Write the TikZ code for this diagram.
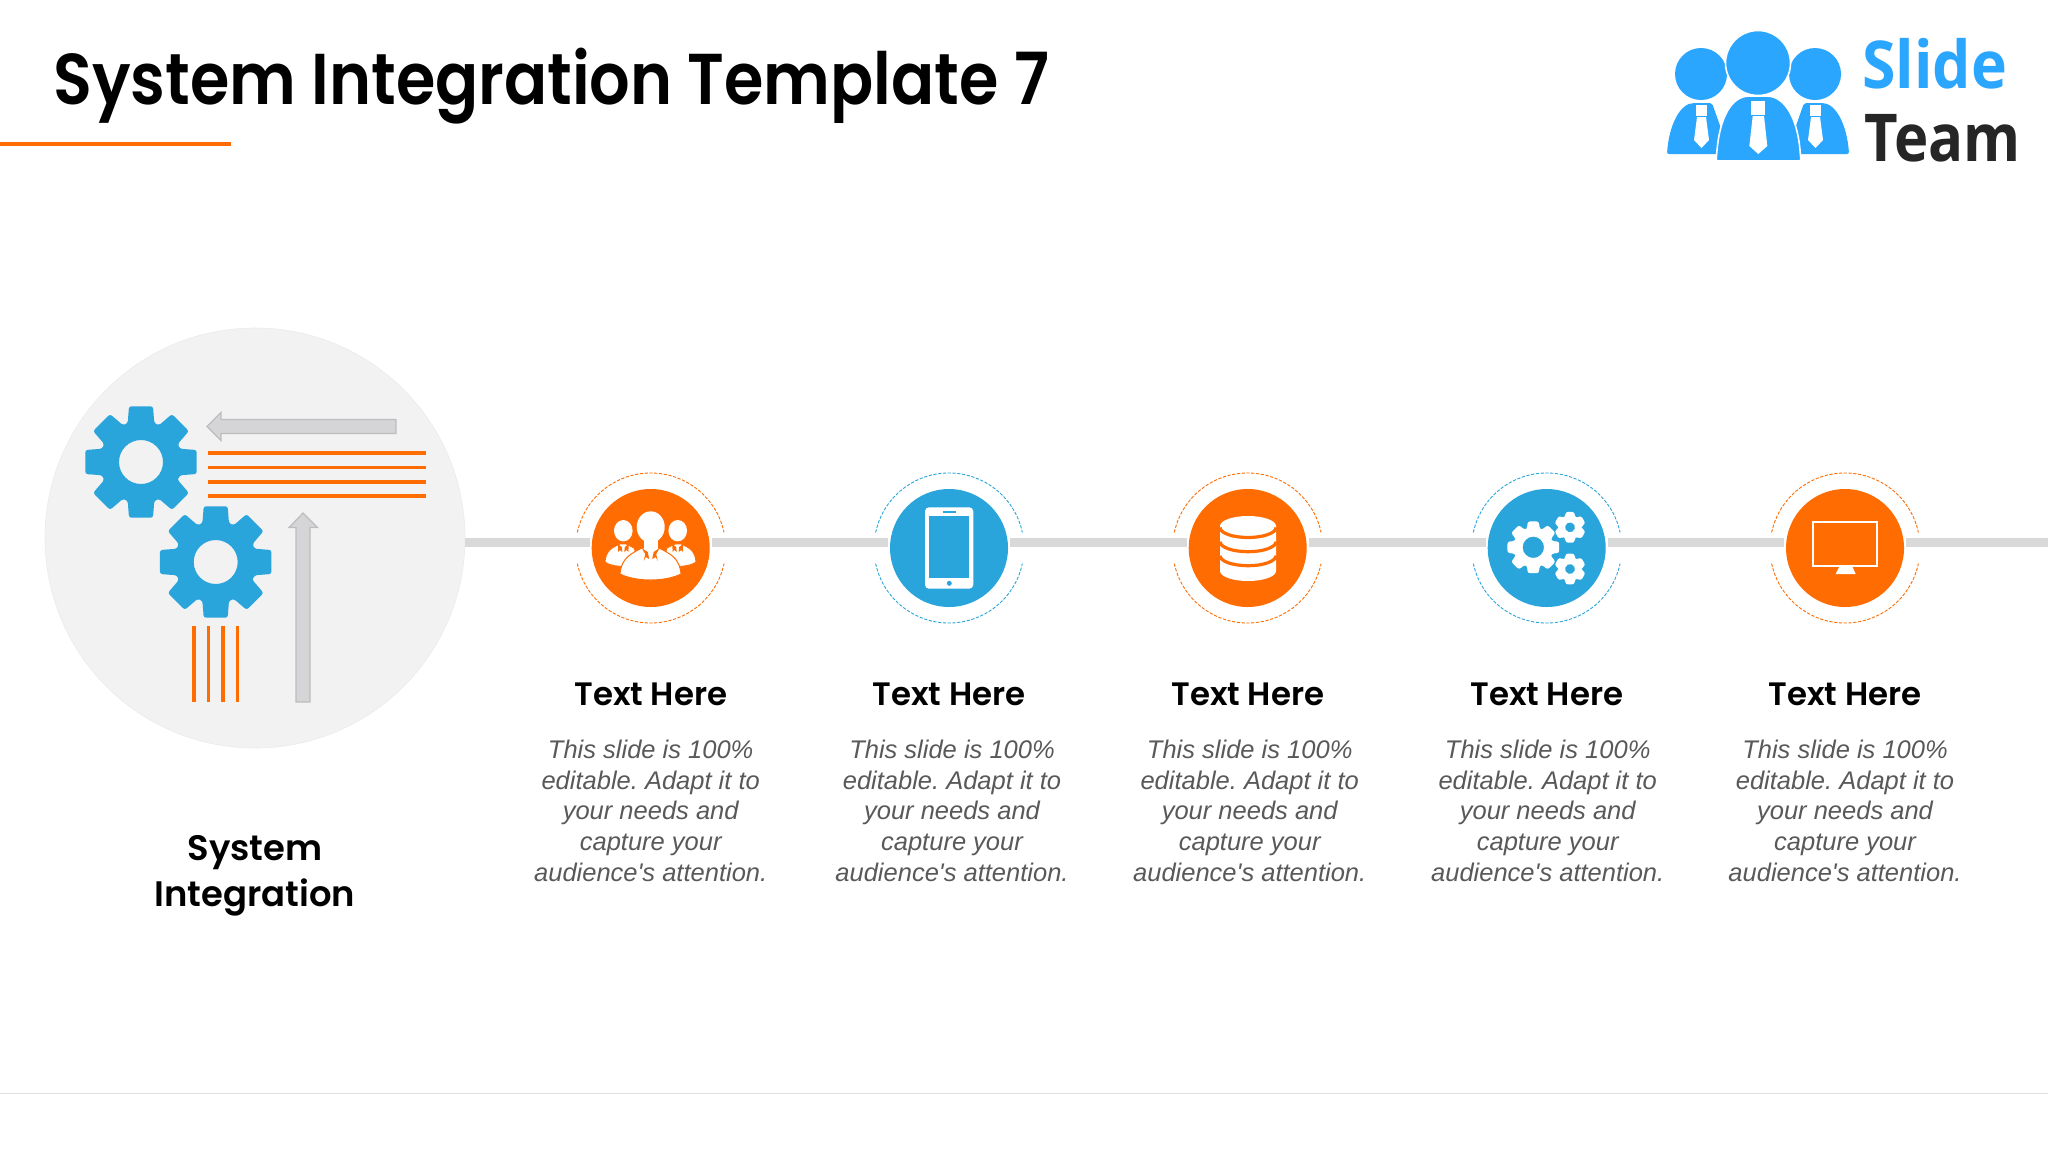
\documentclass[tikz,border=0pt]{standalone}
\usepackage{fontspec}
\setmainfont{Liberation Sans}
\newfontfamily\titlefont[FakeStretch=.885]{Poppins SemiBold}
\newfontfamily\headfont{Poppins SemiBold}
\newfontfamily\slidefont[FakeStretch=.92]{Open Sans}
\newfontfamily\teamfont[FakeStretch=.88]{Open Sans}
\frenchspacing
\definecolor{orangec}{HTML}{FF6C02}
\definecolor{bluec}{HTML}{29A5DB}
\definecolor{logoblue}{HTML}{2BA6FF}
\definecolor{trackc}{HTML}{D9D9D9}
\definecolor{hubc}{HTML}{F2F2F3}
\definecolor{descc}{HTML}{595959}
\definecolor{arrowfill}{HTML}{D5D5D7}
\definecolor{arrowedge}{HTML}{BDBDBF}

% x y outer root hole teeth options
\newcommand{\gearicon}[7]{%
  \begin{scope}[shift={(#1,#2)},#7]
    \pgfmathsetmacro{\gstep}{360/#6}
    \fill[even odd rule, rounded corners=1.2pt] ({.58*\gstep}:#4)
      \foreach \t in {1,...,#6} {
        -- ({(\t-.42)*\gstep}:#4) -- ({(\t-.27)*\gstep}:#3)
        -- ({(\t+.27)*\gstep}:#3) -- ({(\t+.42)*\gstep}:#4)
      } -- cycle (0,0) circle[radius=#5];
  \end{scope}}

\tikzset{
  trackline/.style={draw=trackc, line width=4.2pt},
  disc/.style={circle, minimum size=59pt, inner sep=0pt, outer sep=1pt},
  halo/.style={dash pattern=on 1.6pt off .8pt, line width=.45pt},
  stripe/.style={draw=orangec, line width=1.8pt},
  headtext/.style={font=\headfont\fontsize{16.2}{18}\selectfont, anchor=base},
  desctext/.style={font=\itshape\fontsize{12.75}{15.35}\selectfont, text=descc, align=center, anchor=north},
  grayarrow/.style={fill=arrowfill, draw=arrowedge, line width=.6pt},
}

\begin{document}
\begin{tikzpicture}[x=.5pt,y=-.5pt]
  \useasboundingbox[fill=white] (0,0) rectangle (2048,1152);

  % title and rules
  \node[font=\titlefont\fontsize{36}{40}\selectfont, anchor=base west, inner sep=0pt] (title) at (53,104) {System Integration Template 7};
  \coordinate (ruleleft) at (0,144);
  \coordinate (ruleright) at (231,144);
  \draw[orangec, line width=2pt] (ruleleft) -- (ruleright);
  \coordinate (footleft) at (0,1093);
  \coordinate (footright) at (2048,1093);
  \draw[black!12, line width=.5pt] (footleft) -- (footright);

  % logo
  \begin{scope}[logoblue]
    \fill[rounded corners=1pt] (1667,154) .. controls (1669,125) and (1680,103) .. (1696,103) -- (1712,103) -- (1730,154) -- cycle;
    \fill[rounded corners=1pt] (1849,154) .. controls (1847,125) and (1836,103) .. (1820,103) -- (1804,103) -- (1786,154) -- cycle;
    \fill (1701,74) circle[radius=26];
    \fill (1815,74) circle[radius=26];
    \filldraw[draw=white, line width=.8pt] (1758,63) circle[radius=32.5];
    \filldraw[draw=white, line width=.8pt, rounded corners=1pt] (1716,161) -- (1717,150) .. controls (1720,120) and (1730,97) .. (1750,96) -- (1766,96) .. controls (1786,97) and (1797,120) .. (1800,150) -- (1801,161) -- cycle;
  \end{scope}
  \fill[white] (1751,101) rectangle (1765,115);
  \fill[white] (1752.7,116) -- (1764,116) -- (1767.3,146) -- (1758.3,154) -- (1749.3,146) -- cycle;
  \foreach \dx in {0,114} {
    \fill[white] ({1696+\dx},105) rectangle ({1706.7+\dx},116);
    \fill[white] ({1697+\dx},117) -- ({1706+\dx},117) -- ({1709+\dx},140) -- ({1701.5+\dx},148) -- ({1694+\dx},140) -- cycle;
  }
  \node[font=\slidefont\bfseries\fontsize{33}{36}\selectfont, text=logoblue, anchor=base west, inner sep=0pt] (slide) at (1862,88) {Slide};
  \node[font=\teamfont\bfseries\fontsize{33}{36}\selectfont, text=black!85, anchor=base west, inner sep=0pt] (team) at (1864,161) {Team};

  % hub
  \node[circle, fill=hubc, draw=black!8, line width=.3pt, minimum size=210pt, inner sep=0pt] (hub) at (255,538) {};
  \gearicon{141}{462}{57}{41}{22}{8}{fill=bluec}
  \gearicon{215.7}{562}{57}{41}{22}{8}{fill=bluec}
  \filldraw[grayarrow] (396,419.5) -- (221,419.5) -- (221,412.5) -- (207,426.5) -- (221,440.5) -- (221,433.5) -- (396,433.5) -- cycle;
  \filldraw[grayarrow] (296,702) -- (296,527.5) -- (289,527.5) -- (303,513) -- (317.5,527.5) -- (310,527.5) -- (310,702) -- cycle;
  \foreach \y in {453,467.3,481.7,495.7} {
    \draw[stripe] (208,\y) -- (426,\y);
  }
  \foreach \x in {194,208.3,222.7,237.3} {
    \draw[stripe] (\x,625.5) -- (\x,701.5);
  }
  \node[font=\headfont\fontsize{17.7}{23}\selectfont, align=center, anchor=north] (hubtext) at (255,828) {System\\Integration};

  % steps
  \foreach \x/\col/\dx [count=\i] in {650.7/orangec/0,949/bluec/3,1247.7/orangec/2,1546.7/bluec/1,1845/orangec/0} {
    \node[disc, fill=\col] (disc\i) at (\x,548) {};
    \draw[\col, halo] (\x,548) ++(168:75) arc[start angle=168, end angle=12, radius=75];
    \draw[\col, halo] (\x,548) ++(192:75) arc[start angle=192, end angle=348, radius=75];
    \node[headtext] (head\i) at (\x,705) {Text Here};
    \node[desctext] (desc\i) at ({\x+\dx},733) {This slide is 100\%\\editable. Adapt it to\\your needs and\\capture your\\audience\textquotesingle s attention.};
  }
  \coordinate (trackend) at (2048,542.6);
  \draw[trackline] ([yshift=-2.3pt]hub.east) -- ([yshift=2.7pt]disc1.west);
  \draw[trackline] ([yshift=2.7pt]disc1.east) -- ([yshift=2.7pt]disc2.west);
  \draw[trackline] ([yshift=2.7pt]disc2.east) -- ([yshift=2.7pt]disc3.west);
  \draw[trackline] ([yshift=2.7pt]disc3.east) -- ([yshift=2.7pt]disc4.west);
  \draw[trackline] ([yshift=2.7pt]disc4.east) -- ([yshift=2.7pt]disc5.west);
  \draw[trackline] ([yshift=2.7pt]disc5.east) -- (trackend);

  % people icon
  \filldraw[white, draw=orangec, line width=.4pt] (605,562) .. controls (606,551) and (611,548) .. (620,544) -- (626,544) -- (634,548) -- (640,566) .. controls (625,567) and (612,567) .. (605,562) -- cycle;
  \filldraw[white, draw=orangec, line width=.4pt] (696,562) .. controls (695,551) and (690,548) .. (681,544) -- (675,544) -- (667,548) -- (661,566) .. controls (676,567) and (689,567) .. (696,562) -- cycle;
  \fill[white] (623.3,530.7) ellipse[x radius=9.3, y radius=10.7];
  \fill[white] (677.7,530.7) ellipse[x radius=9.3, y radius=10.7];
  \filldraw[white, draw=orangec, line width=.5pt] (620,574) .. controls (621,558) and (632,553) .. (642,548) -- (659,548) .. controls (669,553) and (680,558) .. (681,574) .. controls (665,582) and (636,582) .. (620,574) -- cycle;
  \fill[white] (650.7,527) ellipse[x radius=14, y radius=15.7];
  \fill[white] (644,538) rectangle (657.5,551);
  \foreach \cx in {650.7} {
    \fill[orangec] (\cx-9,548) -- (\cx-3,552) -- (\cx-1.5,559) -- (\cx-5,557) -- (\cx-7,561) -- (\cx-5.5,554) -- cycle;
    \fill[orangec] (\cx+9,548) -- (\cx+3,552) -- (\cx+1.5,559) -- (\cx+5,557) -- (\cx+7,561) -- (\cx+5.5,554) -- cycle;
  }
  \foreach \cx in {623.3,677.7} {
    \fill[orangec] (\cx-5.5,544) -- (\cx-1.5,547) -- (\cx-1,552) -- (\cx-3.5,550) -- (\cx-5,552) -- cycle;
    \fill[orangec] (\cx+5.5,544) -- (\cx+1.5,547) -- (\cx+1,552) -- (\cx+3.5,550) -- (\cx+5,552) -- cycle;
  }

  % phone icon
  \fill[white, rounded corners=2pt] (925,507.3) rectangle (973.3,588.7);
  \fill[bluec] (929.3,516.3) rectangle (969.3,578.3);
  \fill[bluec] (942.7,511.2) rectangle (956,512.8);
  \fill[bluec] (949.3,583.3) circle[radius=2.5];

  % database icon
  \fill[white] (1220,526) arc[start angle=180, end angle=360, x radius=28, y radius=10] -- (1276,571) arc[start angle=0, end angle=180, x radius=28, y radius=10] -- cycle;
  \foreach \y in {527.5,541.7,555.7} {
    \draw[orangec, line width=1.6pt] (1220,\y) arc[start angle=180, end angle=0, x radius=28, y radius=10];
  }

  % gears icon
  \gearicon{1533.3}{547.3}{26.5}{19.5}{10.7}{8}{fill=white}
  \gearicon{1570}{527.3}{16}{11.5}{5}{6}{fill=white, rotate=30}
  \gearicon{1570}{569}{16}{11.5}{5}{6}{fill=white, rotate=30}

  % monitor icon
  \draw[white, line width=1pt] (1813.3,522.3) rectangle (1877.3,566.3);
  \fill[white] (1839.3,566.7) -- (1852.3,566.7) -- (1855.7,574) -- (1835.7,574) -- cycle;
\end{tikzpicture}
\end{document}
